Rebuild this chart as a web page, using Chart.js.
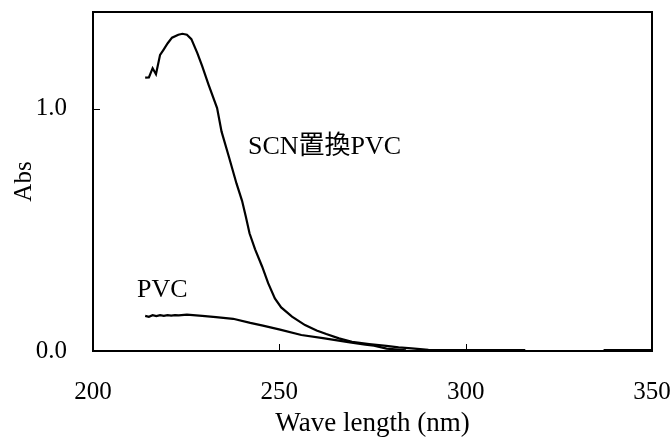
<!DOCTYPE html>
<html>
<head>
<meta charset="utf-8">
<script src="https://cdn.jsdelivr.net/npm/chart.js@4.4.1/dist/chart.umd.min.js"></script>
<style>
  html, body { margin: 0; padding: 0; background: #fff; }
  #wrap { width: 672px; height: 437px; }
</style>
</head>
<body>
<div id="wrap"><canvas id="grafica"></canvas></div>
<script>
// Datos (nm, Abs)
const scnWave = [214, 215, 216, 216.9, 218, 219, 220, 221.2, 222.9, 224, 225.2, 226.4, 228, 229.3, 231, 233.3, 234.5, 236.5, 238.5, 240, 241, 242, 243.5, 245.4, 247, 248.8, 250.5, 253.4, 256.9, 260, 262.6, 266, 269.5, 274.1, 278.7, 282, 285.5, 290, 300, 316, 326, 337, 350];
const scnAbs  = [1.129, 1.13, 1.168, 1.143, 1.223, 1.246, 1.27, 1.294, 1.306, 1.31, 1.306, 1.288, 1.23, 1.176, 1.1, 1.003, 0.906, 0.8, 0.692, 0.62, 0.555, 0.486, 0.42, 0.348, 0.28, 0.217, 0.18, 0.142, 0.107, 0.085, 0.07, 0.052, 0.038, 0.029, 0.021, 0.015, 0.011, 0.005, 0.004, 0.004, null, 0.004, 0.004];

const pvcWave = [214, 215, 216, 217, 218, 219, 220, 221, 222, 223, 225.2, 229.3, 233, 237.6, 242.2, 245.6, 250.2, 255.9, 261.7, 268.5, 273.1, 275.4, 278.8, 284];
const pvcAbs  = [0.145, 0.141, 0.148, 0.144, 0.148, 0.145, 0.148, 0.146, 0.148, 0.147, 0.15, 0.145, 0.14, 0.133, 0.116, 0.105, 0.088, 0.066, 0.053, 0.037, 0.026, 0.022, 0.01, 0.003];

const xTicks = [200, 250, 300, 350];
const yTicks = [0, 1.0];

// Etiquetas dentro de la grafica
const etiquetas = [
  { texto: "SCN置換PVC", x: 241.6, y: 0.84 },
  { texto: "PVC", x: 211.8, y: 0.253 }
];

const fuente = "'Liberation Serif', 'Times New Roman', 'Noto Sans CJK JP', serif";

function puntos(xs, ys) {
  return xs.map((x, i) => ({ x: x, y: ys[i] }));
}

// Quitar el relleno automatico de las escalas
function sinRelleno(s) {
  s.paddingLeft = 0;
  s.paddingRight = 0;
  s.paddingTop = 0;
  s.paddingBottom = 0;
}

// Marco, marcas interiores y etiquetas
const marcoPlugin = {
  id: "marco",
  afterDraw(chart) {
    const ctx = chart.ctx;
    const a = chart.chartArea;
    const sx = chart.scales.x;
    const sy = chart.scales.y;
    ctx.save();
    ctx.strokeStyle = "#000";
    ctx.lineWidth = 2;
    ctx.strokeRect(a.left, a.top, a.right - a.left, a.bottom - a.top);
    ctx.lineWidth = 1;
    ctx.beginPath();
    xTicks.forEach(v => {
      const px = Math.round(sx.getPixelForValue(v)) + 0.5;
      ctx.moveTo(px, a.bottom);
      ctx.lineTo(px, a.bottom - 7);
    });
    yTicks.forEach(v => {
      const py = Math.round(sy.getPixelForValue(v)) + 0.5;
      ctx.moveTo(a.left, py);
      ctx.lineTo(a.left + 7, py);
    });
    ctx.stroke();
    ctx.fillStyle = "#000";
    ctx.font = "26px " + fuente;
    ctx.textBaseline = "middle";
    ctx.textAlign = "left";
    etiquetas.forEach(e => {
      ctx.fillText(e.texto, sx.getPixelForValue(e.x), sy.getPixelForValue(e.y));
    });
    ctx.restore();
  }
};

const ctx = document.getElementById("grafica").getContext("2d");
new Chart(ctx, {
  type: "line",
  data: {
    datasets: [
      {
        label: "SCN置換PVC",
        data: puntos(scnWave, scnAbs),
        borderColor: "#000",
        borderWidth: 2.2,
        pointRadius: 0,
        tension: 0,
        spanGaps: false,
        fill: false
      },
      {
        label: "PVC",
        data: puntos(pvcWave, pvcAbs),
        borderColor: "#000",
        borderWidth: 2.2,
        pointRadius: 0,
        tension: 0,
        fill: false
      }
    ]
  },
  options: {
    responsive: true,
    maintainAspectRatio: false,
    animation: false,
    layout: { padding: { left: 0, right: 20, top: 12, bottom: 0 } },
    plugins: {
      legend: { display: false },
      tooltip: { enabled: false }
    },
    scales: {
      x: {
        type: "linear",
        min: 200,
        max: 350,
        afterBuildTicks: s => { s.ticks = xTicks.map(v => ({ value: v })); },
        afterFit: s => { s.height = 86; sinRelleno(s); },
        grid: { display: false },
        border: { display: false },
        ticks: {
          color: "#000",
          padding: 18,
          maxRotation: 0,
          font: { family: fuente, size: 25 },
          callback: v => String(v)
        },
        title: {
          display: true,
          text: "Wave length (nm)",
          color: "#000",
          padding: { top: 0, bottom: -3 },
          font: { family: fuente, size: 27 }
        }
      },
      y: {
        type: "linear",
        min: 0,
        max: 1.4,
        afterBuildTicks: s => { s.ticks = yTicks.map(v => ({ value: v })); },
        afterFit: s => { s.width = 93; sinRelleno(s); },
        grid: { display: false },
        border: { display: false },
        ticks: {
          color: "#000",
          padding: 18,
          font: { family: fuente, size: 25 },
          callback: v => Number(v).toFixed(1)
        },
        title: {
          display: true,
          text: "Abs",
          color: "#000",
          padding: { top: 9, bottom: 0 },
          font: { family: fuente, size: 25 }
        }
      }
    }
  },
  plugins: [marcoPlugin]
});
</script>
</body>
</html>
